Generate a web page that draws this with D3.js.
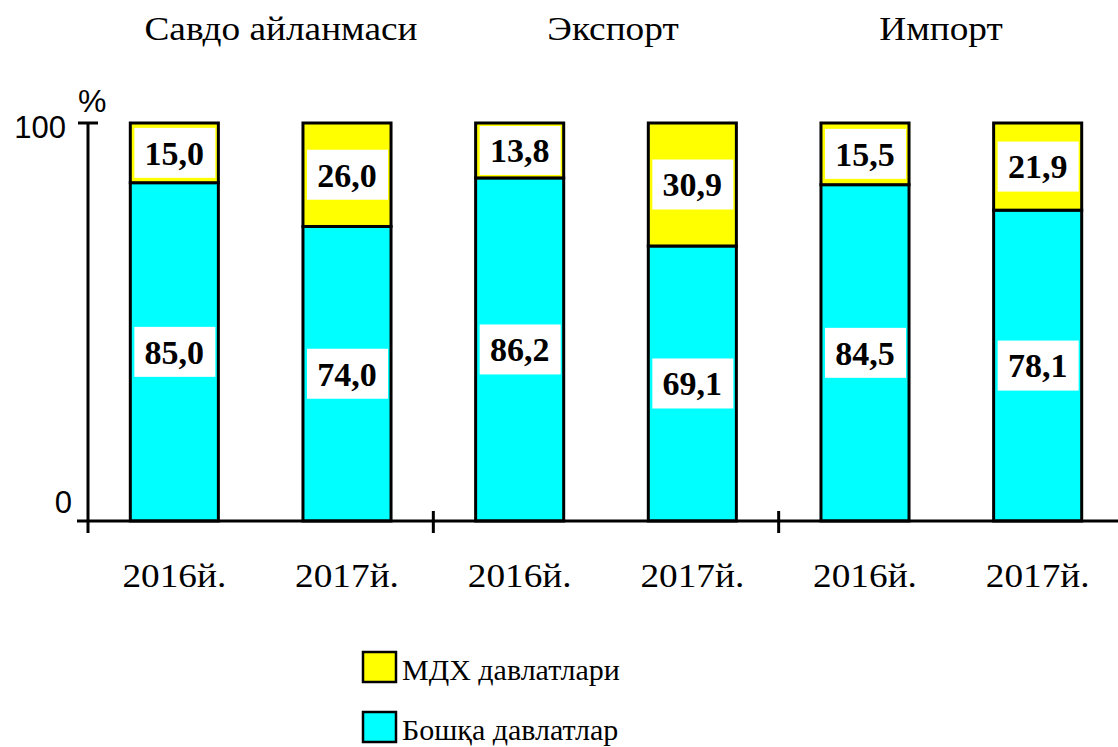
<!DOCTYPE html>
<html><head><meta charset="utf-8">
<script src="https://cdn.jsdelivr.net/npm/d3@7"></script>
<style>
html,body{margin:0;padding:0;background:#fff;}
svg{display:block;}
</style></head>
<body>
<script>
const groups = ["Савдо айланмаси", "Экспорт", "Импорт"];
const categories = ["2016й.", "2017й.", "2016й.", "2017й.", "2016й.", "2017й."];
const otherCountries = [85.0, 74.0, 86.2, 69.1, 84.5, 78.1];
const cisCountries = [15.0, 26.0, 13.8, 30.9, 15.5, 21.9];
const seriesNames = ["МДХ давлатлари", "Бошқа давлатлар"];
const yTicks = [0, 100];

const W = 1118, H = 747;
const SX = 1.13; // horizontal stretch of the serif text in the original
const svg = d3.select("body").append("svg").attr("width", W).attr("height", H);

const rows = categories.map((c, i) => ({ i, cat: c, other: otherCountries[i], cis: cisCountries[i] }));
const stack = d3.stack().keys(["other", "cis"]);
const stacked = stack(rows);

const x = d3.scaleBand().domain(d3.range(categories.length)).range([88, 1124]).paddingInner(0.49).paddingOuter(0.245);
const y = d3.scaleLinear().domain([0, 100]).range([521, 123]);
const colors = { other: "#00FFFF", cis: "#FFFF00" };

const fmt = d3.formatLocale({ decimal: ",", thousands: " ", grouping: [3], currency: ["", ""] }).format(".1f");

// bars
stacked.forEach(layer => {
  svg.append("g").selectAll("rect").data(layer).join("rect")
    .attr("x", d => x(d.data.i))
    .attr("y", d => y(d[1]))
    .attr("width", x.bandwidth())
    .attr("height", d => y(d[0]) - y(d[1]))
    .attr("fill", colors[layer.key])
    .attr("stroke", "#000")
    .attr("stroke-width", 3);
});

// labels
stacked.forEach(layer => {
  const g = svg.append("g").selectAll("g").data(layer).join("g")
    .attr("transform", d => `translate(${x(d.data.i) + x.bandwidth() / 2},${(y(d[0]) + y(d[1])) / 2})`);
  g.append("rect")
    .attr("x", -40)
    .attr("width", 81)
    .attr("y", d => -Math.min(50, y(d[0]) - y(d[1]) - 6) / 2)
    .attr("height", d => Math.min(50, y(d[0]) - y(d[1]) - 6))
    .attr("fill", "#fff");
  g.append("text")
    .attr("text-anchor", "middle")
    .attr("dy", "0.35em")
    .attr("font-family", "'Liberation Serif', 'Times New Roman', serif")
    .attr("font-weight", "bold")
    .attr("font-size", 34)
    .text(d => fmt(d[1] - d[0]));
});

// axes
const ax = svg.append("g").attr("stroke", "#000").attr("stroke-width", 3);
ax.append("line").attr("x1", 77).attr("x2", W).attr("y1", y(0)).attr("y2", y(0));
ax.append("line").attr("x1", 88).attr("x2", 88).attr("y1", y(100)).attr("y2", y(0) + 12);
ax.append("line").attr("x1", 78).attr("x2", 98).attr("y1", y(100)).attr("y2", y(100));
const groupWidth = (1124 - 88) / groups.length;
[1, 2].forEach(k => {
  ax.append("line").attr("x1", 88 + k * groupWidth).attr("x2", 88 + k * groupWidth)
    .attr("y1", y(0) - 10).attr("y2", y(0) + 12);
});

// y tick labels
svg.append("g").selectAll("text").data(yTicks).join("text")
  .attr("x", d => d === 0 ? 72 : 66).attr("text-anchor", "end")
  .attr("y", d => d === 0 ? y(d) - 8 : y(d) + 15)
  .attr("font-family", "'Liberation Sans', Arial, sans-serif")
  .attr("font-size", 31)
  .text(d => d);
svg.append("text").attr("x", 78).attr("y", 112)
  .attr("font-family", "'Liberation Sans', Arial, sans-serif")
  .attr("font-size", 32).text("%");

// x labels
svg.append("g").selectAll("text").data(categories).join("text")
  .attr("transform", (d, i) => `translate(${x(i) + x.bandwidth() / 2},587) scale(${SX},1)`)
  .attr("text-anchor", "middle")
  .attr("font-family", "'Liberation Serif', 'Times New Roman', serif")
  .attr("font-size", 33)
  .text(d => d);

// group titles
const titleX = [281, 613, 941];
svg.append("g").selectAll("text").data(groups).join("text")
  .attr("transform", (d, i) => `translate(${titleX[i]},40) scale(${SX},1)`)
  .attr("text-anchor", "middle")
  .attr("font-family", "'Liberation Serif', 'Times New Roman', serif")
  .attr("font-size", 33)
  .text(d => d);

// legend
const legendKeys = ["cis", "other"];
const lg = svg.append("g").selectAll("g").data(legendKeys).join("g")
  .attr("transform", (d, i) => `translate(363,${652 + i * 60})`);
lg.append("rect").attr("width", 33).attr("height", 30)
  .attr("fill", d => colors[d]).attr("stroke", "#000").attr("stroke-width", 2.5);
lg.append("text").attr("x", 39).attr("y", 28)
  .attr("font-family", "'Liberation Serif', 'Times New Roman', serif")
  .attr("font-size", 30)
  .text((d, i) => seriesNames[i]);
</script>
</body></html>
